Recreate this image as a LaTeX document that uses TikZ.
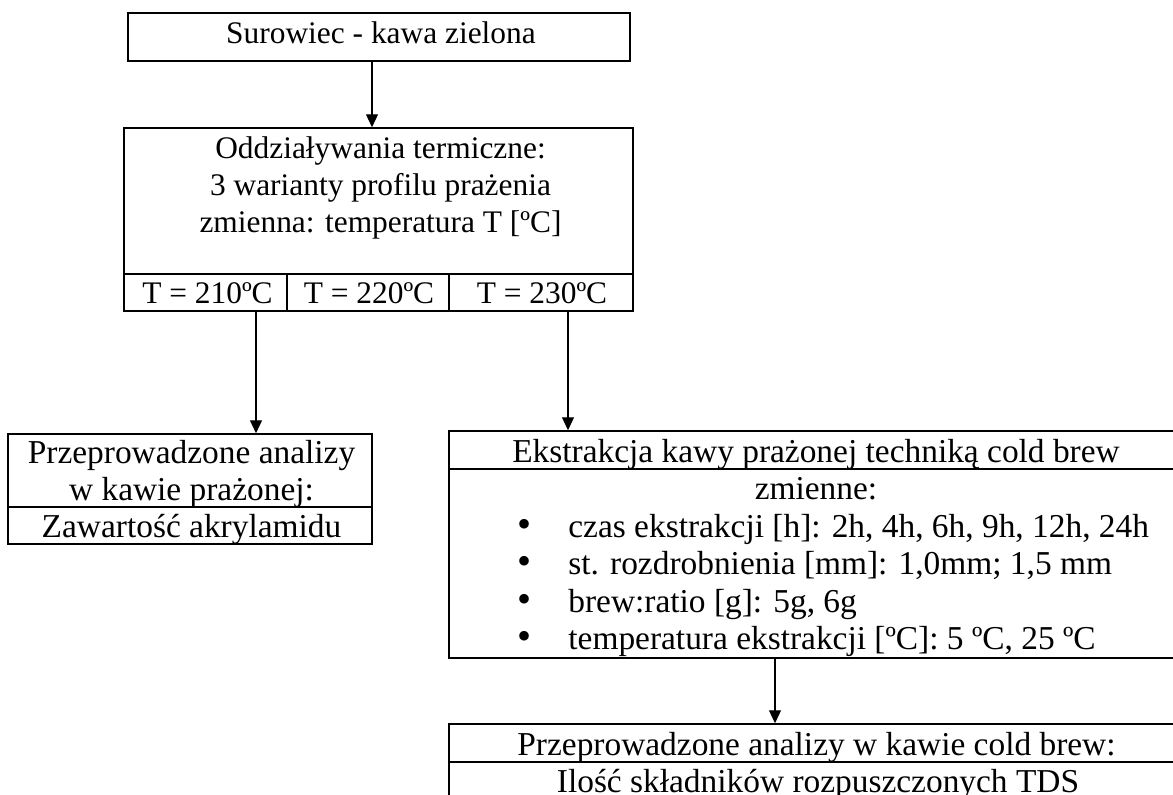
\documentclass[tikz,border=0pt]{standalone}
\usepackage{fontspec}
\setmainfont{Liberation Serif}
\usetikzlibrary{arrows.meta}
\begin{document}
\begin{tikzpicture}[x=0.5pt,y=-0.5pt,
  box/.style={draw=black,line width=0.75pt,inner sep=0pt,rectangle},
  txt/.style={anchor=base,inner sep=0pt,font=\fontsize{16.7pt}{18.5pt}\selectfont},
  utxt/.style={anchor=base,inner sep=0pt,font=\fontsize{15.7pt}{18.5pt}\selectfont},
  ltxt/.style={anchor=base west,inner sep=0pt,font=\fontsize{16.7pt}{18.5pt}\selectfont},
  arr/.style={draw=black,line width=0.6pt,-{Triangle[width=6pt,length=6.5pt]}}]
\useasboundingbox (0,0) rectangle (1173,794);
\clip (0,0) rectangle (1173,794);
\fill[white] (0,0) rectangle (1173,794);
% boxes
\node[box,minimum width=251pt,minimum height=24pt] (top) at (379,37) {};
\node[box,minimum width=254.5pt,minimum height=73pt] (thermo) at (378.5,201) {};
\node[box,minimum width=81.5pt,minimum height=18.5pt] (t210) at (205.5,292.5) {};
\node[box,minimum width=81pt,minimum height=18.5pt] (t220) at (368,292.5) {};
\node[box,minimum width=92pt,minimum height=18.5pt] (t230) at (541,292.5) {};
\node[box,minimum width=182pt,minimum height=36.5pt] (roast) at (190,470.5) {};
\node[box,minimum width=182pt,minimum height=18.5pt] (acryl) at (190,525.5) {};
\node[box,minimum width=375.5pt,minimum height=19pt] (extr) at (824.5,450) {};
\node[box,minimum width=375.5pt,minimum height=94.5pt] (vars) at (824.5,563.5) {};
\node[box,minimum width=375.5pt,minimum height=19pt] (cb) at (824.5,743) {};
\node[box,minimum width=375.5pt,minimum height=34pt] (tds) at (824.5,796) {};
% texts
\node[utxt] (ttop) at (381,43) {Surowiec - kawa zielona};
\node[utxt] (th1) at (380.5,158) {Oddziaływania termiczne:};
\node[utxt] (th2) at (380.5,195) {3 warianty profilu prażenia};
\node[utxt] (th3) at (380.5,232) {zmienna: temperatura T [ºC]};
\node[utxt] (tt1) at (207.5,303) {T = 210ºC};
\node[utxt] (tt2) at (369,303) {T = 220ºC};
\node[utxt] (tt3) at (542,303) {T = 230ºC};
\node[txt] (ro1) at (191.5,463) {Przeprowadzone analizy};
\node[txt] (ro2) at (191.5,500) {w kawie prażonej:};
\node[txt] (ro3) at (191.5,537) {Zawartość akrylamidu};
\node[txt] (ex1) at (816,462) {Ekstrakcja kawy prażonej techniką cold brew};
\node[txt] (ex2) at (816,499) {zmienne:};
\node[txt] (b1) at (525,537) {\scalebox{1.2}{•}};
\node[txt] (b2) at (525,574.5) {\scalebox{1.2}{•}};
\node[txt] (b3) at (525,612) {\scalebox{1.2}{•}};
\node[txt] (b4) at (525,649.5) {\scalebox{1.2}{•}};
\node[ltxt] (v1) at (568,537) {czas ekstrakcji [h]: 2h, 4h, 6h, 9h, 12h, 24h};
\node[ltxt] (v2) at (568,574.5) {st. rozdrobnienia [mm]: 1,0mm; 1,5 mm};
\node[ltxt] (v3) at (568,612) {brew:ratio [g]: 5g, 6g};
\node[ltxt] (v4) at (568,649.5) {temperatura ekstrakcji [ºC]: 5 ºC, 25 ºC};
\node[txt] (cb1) at (816.5,755) {Przeprowadzone analizy w kawie cold brew:};
\node[txt] (cb2) at (818,792) {Ilość składników rozpuszczonych TDS};
% arrows
\draw[arr] (top.south -| 372,0) -- (thermo.north -| 372,0);
\draw[arr] (t210.south -| 256,0) -- (roast.north -| 256,0);
\draw[arr] (t230.south -| 568,0) -- (extr.north -| 568,0);
\draw[arr] (vars.south -| 775,0) -- (cb.north -| 775,0);
\end{tikzpicture}
\end{document}
